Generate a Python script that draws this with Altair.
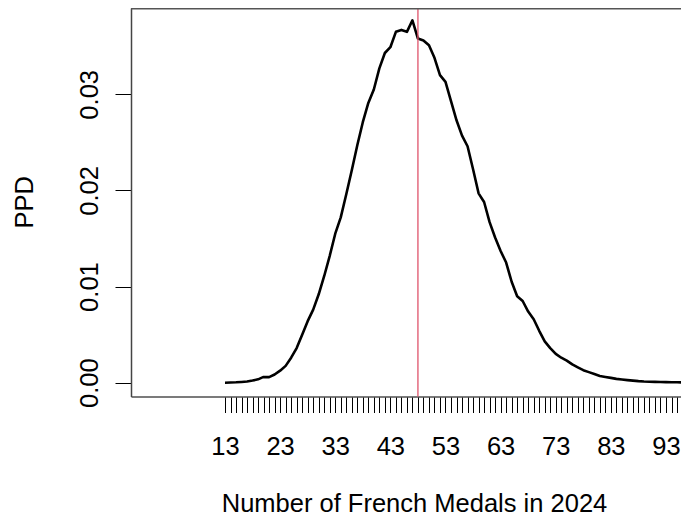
import altair as alt
import pandas as pd

# Data
medals = list(range(13, 98))
ppd = [0.00000, 0.00002, 0.00004, 0.00008, 0.00012, 0.00022, 0.00035, 0.00060, 0.00058, 0.00085,
       0.00125, 0.00175, 0.0026, 0.0036, 0.0050, 0.0064, 0.0076, 0.0092, 0.0111, 0.0132,
       0.0155, 0.0172, 0.0196, 0.0221, 0.0247, 0.0271, 0.0291, 0.0305, 0.0327, 0.0343,
       0.0349, 0.0365, 0.0367, 0.0365, 0.0377, 0.0358, 0.0356, 0.0351, 0.0338, 0.0320,
       0.0313, 0.0293, 0.0273, 0.0257, 0.0246, 0.0222, 0.0197, 0.0188, 0.0167, 0.0151,
       0.0137, 0.0125, 0.0105, 0.0090, 0.0085, 0.0074, 0.0066, 0.0054, 0.0043, 0.0036,
       0.0030, 0.0026, 0.0023, 0.0019, 0.0016, 0.0013, 0.0011, 0.0009, 0.0007, 0.0006,
       0.0005, 0.0004, 0.00033, 0.00027, 0.00022, 0.00016, 0.00012, 0.0001, 0.00009, 0.00008,
       0.00006, 0.00005, 0.00004, 0.00003, 0.00002]
observed = [48]
x_tick_values = list(range(13, 98))
x_label_values = [13, 23, 33, 43, 53, 63, 73, 83, 93]
y_tick_values = [0.00, 0.01, 0.02, 0.03]

W = 550
H = 388.5
FONT = "Liberation Sans"
FS = 25.5

df = pd.DataFrame({"medals": medals, "ppd": ppd})
obs_df = pd.DataFrame({"medals": observed})

x_scale = alt.Scale(domain=[-4.05, 95.72], nice=False, zero=False)
y_scale = alt.Scale(domain=[-0.001436, 0.03898], nice=False, zero=False)

label_expr = "indexof([" + ",".join(str(v) for v in x_label_values) + "], datum.value) >= 0 ? datum.label : ''"

x_axis = alt.Axis(
    values=x_tick_values,
    tickCount=200,
    format="d",
    labelExpr=label_expr,
    title="Number of French Medals in 2024",
    grid=False,
    tickSize=16,
    tickColor="black",
    tickWidth=1,
    domainColor="#555555",
    domainWidth=1.5,
    labelFont=FONT,
    labelFontSize=FS,
    labelColor="black",
    labelBaseline="alphabetic",
    labelPadding=42,
    labelOverlap=False,
    labelFlush=False,
    labelBound=False,
    titleFont=FONT,
    titleFontSize=FS,
    titleFontWeight="normal",
    titleColor="black",
    titleBaseline="alphabetic",
    titleAlign="center",
    titleX=283,
    titleY=115,
)

y_axis = alt.Axis(
    values=y_tick_values,
    format=".2f",
    title="PPD",
    grid=False,
    tickSize=16,
    tickColor="black",
    tickWidth=1,
    domainColor="#444444",
    domainWidth=1.5,
    labelFont=FONT,
    labelFontSize=FS,
    labelColor="black",
    labelAngle=270,
    labelAlign="center",
    labelBaseline="alphabetic",
    labelPadding=18,
    labelOverlap=False,
    labelFlush=False,
    labelBound=False,
    titleFont=FONT,
    titleFontSize=FS,
    titleFontWeight="normal",
    titleColor="black",
    titleAngle=270,
    titleBaseline="alphabetic",
    titleAlign="center",
    titleX=-99,
    titleY=193.7,
)

line = alt.Chart(df).mark_line(color="black", strokeWidth=2.6, strokeJoin="round", clip=True).encode(
    x=alt.X("medals:Q", scale=x_scale, axis=x_axis),
    y=alt.Y("ppd:Q", scale=y_scale, axis=y_axis),
)

vline = alt.Chart(obs_df).mark_rule(color="#DF536B", strokeWidth=1.3).encode(
    x=alt.X("medals:Q", scale=x_scale),
)

top_border = alt.Chart(obs_df).mark_rule(color="#555555", strokeWidth=1.5).encode(
    x=alt.value(0), x2=alt.value(W), y=alt.value(0.75)
)

chart = alt.layer(line, vline, top_border).properties(
    width=W,
    height=H,
    autosize=alt.AutoSizeParams(type="none"),
    padding={"left": 123, "top": 0, "right": 0, "bottom": 120.5},
).configure_view(stroke=None).configure(background="white")

chart.save("out.html", embed_options={"renderer": "svg", "actions": False})
